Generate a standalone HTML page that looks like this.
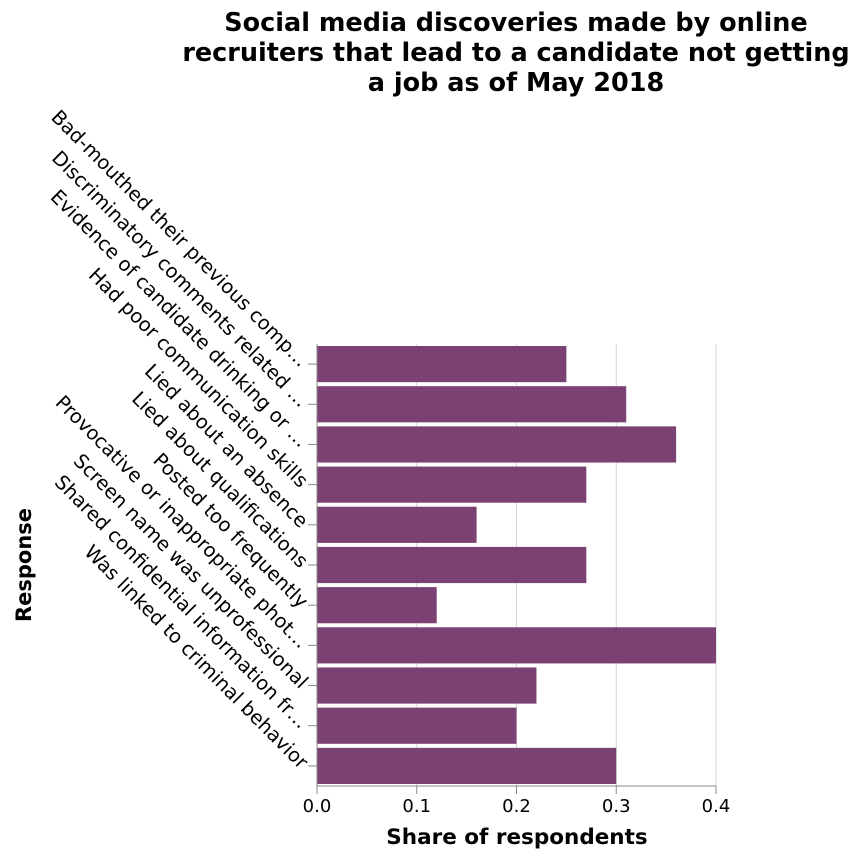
<!DOCTYPE html>
<html><head><meta charset="utf-8"><style>body{margin:0;background:#fff}svg{font-family:"DejaVu Sans","Liberation Sans",sans-serif}</style></head>
<body>
<svg id="c" width="866" height="858" xmlns="http://www.w3.org/2000/svg">
<g font-weight="bold" font-size="25.5" text-anchor="middle" fill="#000">
<text x="516" y="31">Social media discoveries made by online</text>
<text x="516" y="61">recruiters that lead to a candidate not getting</text>
<text x="516" y="91">a job as of May 2018</text>
</g>
<g id="grid"></g><g id="bars"></g><g id="yaxis"></g><g id="xaxis"></g>
<text x="517" y="844" text-anchor="middle" font-weight="bold" font-size="21.5">Share of respondents</text>
<text transform="translate(31,565) rotate(-90)" text-anchor="middle" font-weight="bold" font-size="21">Response</text>
</svg>
<script>
const categories=["Bad-mouthed their previous comp…","Discriminatory comments related …","Evidence of candidate drinking or …","Had poor communication skills","Lied about an absence","Lied about qualifications","Posted too frequently","Provocative or inappropriate phot…","Screen name was unprofessional","Shared confidential information fr…","Was linked to criminal behavior"];
const values=[0.25,0.31,0.36,0.27,0.16,0.27,0.12,0.40,0.22,0.20,0.30];
const xTicks=[0,0.1,0.2,0.3,0.4];
const tickLabels=["0.0","0.1","0.2","0.3","0.4"];
const NS="http://www.w3.org/2000/svg";
const L=317,R=716,T=344,B=786;
const x=v=>L+(R-L)*v/0.4;
const band=(B-T)/categories.length;
const y=i=>T+i*band;
function mk(t,a,p){const e=document.createElementNS(NS,t);for(const k in a)e.setAttribute(k,a[k]);p.appendChild(e);return e;}
const g=document.getElementById('grid'),bg=document.getElementById('bars'),ya=document.getElementById('yaxis'),xa=document.getElementById('xaxis');
xTicks.forEach((v,i)=>{
 const l=mk('line',{x1:x(v),x2:x(v),y1:T,y2:B,stroke:'#d4d4d4'},g);
 
 
 const tk=mk('line',{x1:x(v),x2:x(v),y1:B,y2:B+8,stroke:'#888'},xa);
 
 
 const t=mk('text',{x:x(v),y:B+26,'text-anchor':'middle','font-size':18},xa);t.textContent=tickLabels[i];
 
 
});
const ax=mk('line',{x1:L,x2:R,y1:B,y2:B,stroke:'#888'},xa);


const ay=mk('line',{x1:L,x2:L,y1:T,y2:B,stroke:'#888'},ya);


categories.forEach((c,i)=>{
 const r=mk('rect',{x:L,y:y(i)+band*0.05,width:x(values[i])-L,height:band*0.9,fill:'#7b4173'},bg);
 
 
 const cy=y(i)+band/2;
 const tk=mk('line',{x1:L-9,x2:L,y1:cy,y2:cy,stroke:'#888'},ya);
 
 
 const t=mk('text',{transform:`translate(${L-17},${cy+4}) rotate(45)`,'text-anchor':'end','font-size':19.5},ya);t.textContent=c;
 
 
});
</script>
</body></html>
